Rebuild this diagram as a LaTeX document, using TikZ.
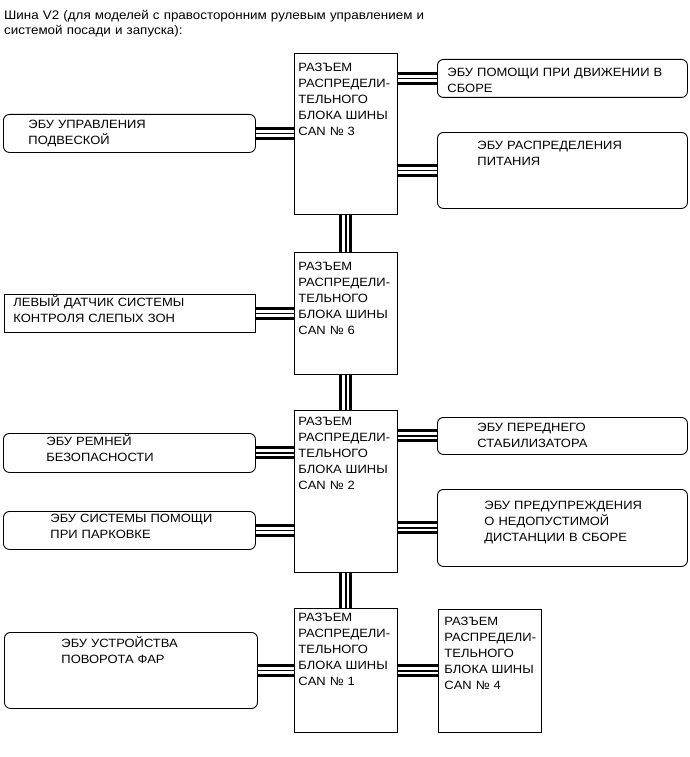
\documentclass[tikz,border=0pt]{standalone}
\usepackage{fontspec}
\setmainfont{Liberation Sans}[FakeStretch=1.08]
\usetikzlibrary{positioning}
\newcommand{\boxfont}{\fontsize{12}{16}\selectfont}
\newcommand{\titlefont}{\fontsize{12.4}{15}\selectfont}
\tikzset{
    bus/.style={draw=white, line width=7pt, preaction={draw=black, line width=13pt}, postaction={draw=black, line width=1.5pt}},
    lpad/.style={execute at begin node={\leftskip=#1\relax}},
    hub/.style={rectangle, draw, line width=0.9pt, anchor=north west, inner sep=0pt, align=left, font=\boxfont},
    ecu/.style={hub, rounded corners=6pt}
}

\begin{document}
\begin{tikzpicture}[x=1pt, y=-1pt]
    \useasboundingbox (0,0) rectangle (690,757);

    % Title
    \node[anchor=north west, inner sep=0pt, align=left, font=\titlefont, text width=480pt, text height=11pt] (title) at (4,8)
        {Шина V2 (для моделей с правосторонним рулевым управлением и\\ системой посади и запуска):};

    % CAN junction blocks
    \node[hub, text width=103pt, text height=18pt, text depth=143pt, lpad=4pt] (can3) at (294,53) {РАЗЪЕМ\\ РАСПРЕДЕЛИ-\\ ТЕЛЬНОГО\\ БЛОКА ШИНЫ\\ CAN № 3};
    \node[hub, text width=103pt, text height=18pt, text depth=104pt, lpad=4pt] (can6) at (294,252) {РАЗЪЕМ\\ РАСПРЕДЕЛИ-\\ ТЕЛЬНОГО\\ БЛОКА ШИНЫ\\ CAN № 6};
    \node[hub, text width=103pt, text height=15pt, text depth=147pt, lpad=4pt] (can2) at (294,410) {РАЗЪЕМ\\ РАСПРЕДЕЛИ-\\ ТЕЛЬНОГО\\ БЛОКА ШИНЫ\\ CAN № 2};
    \node[hub, text width=103pt, text height=13pt, text depth=111pt, lpad=4pt] (can1) at (294,608) {РАЗЪЕМ\\ РАСПРЕДЕЛИ-\\ ТЕЛЬНОГО\\ БЛОКА ШИНЫ\\ CAN № 1};
    \node[hub, text width=103pt, text height=16pt, text depth=107pt, lpad=6pt] (can4) at (438,609) {РАЗЪЕМ\\ РАСПРЕДЕЛИ-\\ ТЕЛЬНОГО\\ БЛОКА ШИНЫ\\ CAN № 4};

    % ECUs on the right
    \node[ecu, text width=250pt, text height=17pt, text depth=21pt, lpad=10pt] (assist) at (437,59) {ЭБУ ПОМОЩИ ПРИ ДВИЖЕНИИ В\\ СБОРЕ};
    \node[ecu, text width=250pt, text height=17pt, text depth=59pt, lpad=40pt] (power) at (437,132) {ЭБУ РАСПРЕДЕЛЕНИЯ\\ ПИТАНИЯ};
    \node[ecu, text width=250pt, text height=14pt, text depth=23pt, lpad=40pt] (stab) at (437,417) {ЭБУ ПЕРЕДНЕГО\\ СТАБИЛИЗАТОРА};
    \node[ecu, text width=250pt, text height=20pt, text depth=57pt, lpad=47pt] (dist) at (437,489) {ЭБУ ПРЕДУПРЕЖДЕНИЯ\\ О НЕДОПУСТИМОЙ\\ ДИСТАНЦИИ В СБОРЕ};

    % ECUs on the left
    \node[ecu, text width=252pt, text height=14pt, text depth=24pt, lpad=25pt] (susp) at (3,114) {ЭБУ УПРАВЛЕНИЯ\\ ПОДВЕСКОЙ};
    \node[hub, text width=251pt, text height=12pt, text depth=26pt, lpad=9pt] (blind) at (4,294) {ЛЕВЫЙ ДАТЧИК СИСТЕМЫ\\ КОНТРОЛЯ СЛЕПЫХ ЗОН};
    \node[ecu, text width=252pt, text height=12pt, text depth=27pt, lpad=43pt] (belt) at (3,433) {ЭБУ РЕМНЕЙ\\ БЕЗОПАСНОСТИ};
    \node[ecu, text width=252pt, text height=11pt, text depth=27pt, lpad=47pt] (park) at (3,511) {ЭБУ СИСТЕМЫ ПОМОЩИ\\ ПРИ ПАРКОВКЕ};
    \node[ecu, text width=253pt, text height=15pt, text depth=61pt, lpad=57pt] (lamp) at (4,632) {ЭБУ УСТРОЙСТВА\\ ПОВОРОТА ФАР};

    % Trunk
    \draw[bus] (can3.south) -- (can6.north);
    \draw[bus] (can6.south) -- (can2.north);
    \draw[bus] (can2.south) -- (can1.north);

    % Branches
    \draw[bus] (assist.west) -- (assist.west -| can3.east);
    \draw[bus] (power.west) -- (power.west -| can3.east);
    \draw[bus] (susp.east) -- (susp.east -| can3.west);
    \draw[bus] (blind.east) -- (blind.east -| can6.west);
    \draw[bus] (belt.east) -- (belt.east -| can2.west);
    \draw[bus] (park.east) -- (park.east -| can2.west);
    \draw[bus] (stab.west) -- (stab.west -| can2.east);
    \draw[bus] (dist.west) -- (dist.west -| can2.east);
    \draw[bus] (lamp.east) -- (lamp.east -| can1.west);
    \draw[bus] (can4.west) -- (can4.west -| can1.east);

\end{tikzpicture}
\end{document}
